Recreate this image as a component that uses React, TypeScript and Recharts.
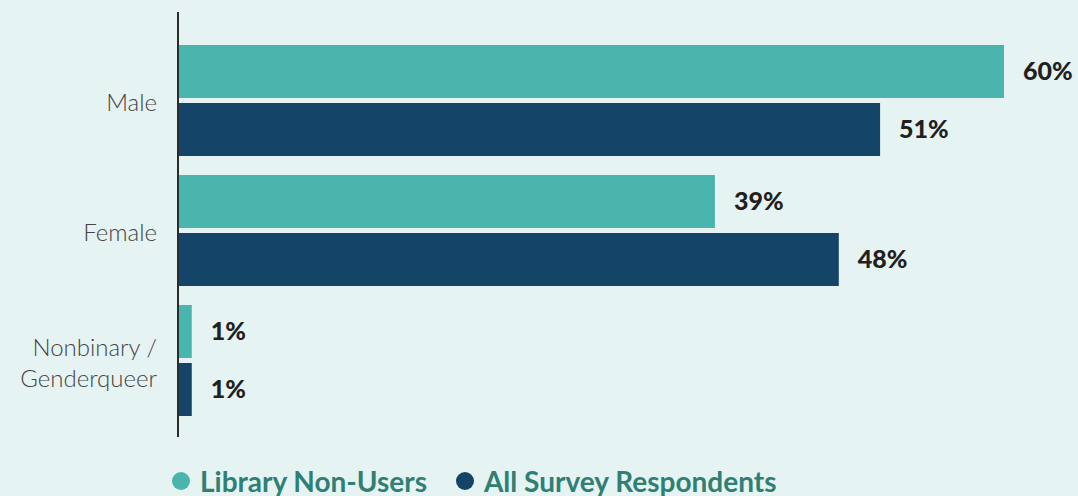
import { BarChart, Bar, XAxis, YAxis, LabelList } from 'recharts';

const categories = ['Male', 'Female', 'Nonbinary / Genderqueer'];
const nonUsers = [60, 39, 1];
const allRespondents = [51, 48, 1];
const seriesNames = ['Library Non-Users', 'All Survey Respondents'];

const TEAL = '#4ab5ac';
const NAVY = '#154469';
const BG = '#e5f3f2';

const data = categories.map((name, i) => ({
  name,
  nonUsers: nonUsers[i],
  all: allRespondents[i],
}));

// split long category names onto two lines after the slash
const CategoryTick = ({ x, y, payload }: any) => {
  const value: string = payload.value;
  const lines = value.includes('/') ? [value.slice(0, value.indexOf('/') + 1), value.slice(value.indexOf('/') + 1).trim()] : [value];
  const lineHeight = 31;
  const startY = y + 1 - ((lines.length - 1) * lineHeight) / 2;
  const tx = x - 13;
  return (
    <text
      x={tx}
      y={startY}
      textAnchor="end"
      dominantBaseline="central"
      fontFamily="Lato, sans-serif"
      fontWeight={300}
      fontSize={24}
      fill="#444"
    >
      {lines.map((l, i) => (
        <tspan key={i} x={tx} y={startY + i * lineHeight}>
          {l}
        </tspan>
      ))}
    </text>
  );
};

const labelStyle = {
  fontFamily: 'Lato, sans-serif',
  fontWeight: 900,
  fontSize: 25,
  fill: '#231f20',
};

export default function App() {
  return (
    <div style={{ position: 'absolute', left: 0, top: 0, width: 1078, height: 496, background: BG }}>
      <BarChart
        width={1078}
        height={496}
        data={data}
        layout="vertical"
        margin={{ top: 12, right: 74, bottom: 59, left: 0 }}
        barSize={53}
        barGap={5}
      >
        <XAxis type="number" domain={[0, 60]} hide />
        <YAxis
          type="category"
          dataKey="name"
          width={178}
          axisLine={{ stroke: '#2b2b2b', strokeWidth: 2 }}
          tickLine={false}
          tick={<CategoryTick />}
          padding={{ top: 23, bottom: 12 }}
          interval={0}
        />
        <Bar dataKey="nonUsers" fill={TEAL} isAnimationActive={false}>
          <LabelList dataKey="nonUsers" position="right" offset={19} formatter={(v: any) => `${v}%`} style={labelStyle} />
        </Bar>
        <Bar dataKey="all" fill={NAVY} isAnimationActive={false}>
          <LabelList dataKey="all" position="right" offset={19} formatter={(v: any) => `${v}%`} style={labelStyle} />
        </Bar>
      </BarChart>
      <div
        style={{
          position: 'absolute',
          left: 172,
          top: 464,
          display: 'flex',
          alignItems: 'center',
          fontFamily: 'Lato, sans-serif',
          fontWeight: 700,
          fontSize: 28,
          color: '#2f7f74',
          whiteSpace: 'nowrap',
        }}
      >
        {seriesNames.map((s, i) => (
          <span key={s} style={{ display: 'flex', alignItems: 'center', marginRight: i === 0 ? 29 : 0 }}>
            <span
              style={{
                width: 18,
                height: 18,
                borderRadius: '50%',
                background: i === 0 ? TEAL : NAVY,
                display: 'inline-block',
                marginRight: 10,
              }}
            />
            {s}
          </span>
        ))}
      </div>
    </div>
  );
}
